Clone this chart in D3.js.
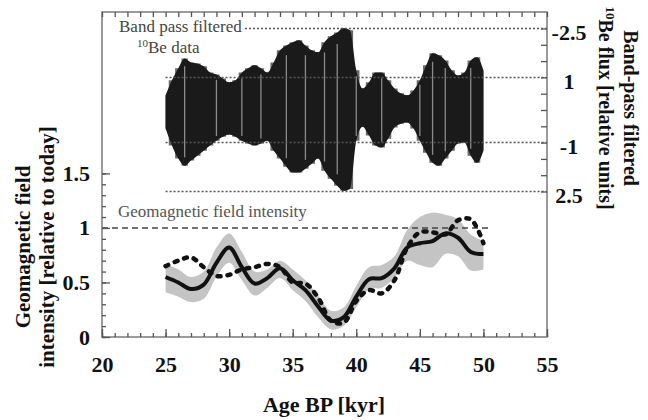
<!DOCTYPE html>
<html>
<head>
<meta charset="utf-8">
<script src="https://cdn.jsdelivr.net/npm/d3@7"></script>
<style>
  body { margin: 0; background: #fff; }
  svg { display: block; }
  .serif { font-family: "Liberation Serif", "Times New Roman", serif; }
</style>
</head>
<body>
<div id="chart"></div>
<script>
// --- données ---
// bas : intensité du champ géomagnétique (relative à aujourd'hui)
const ages = [25, 26, 27, 28, 29, 30, 31, 32, 33, 34, 35, 36, 37, 38, 39, 40, 41, 42, 43, 44, 45, 46, 47, 48, 49, 50];
const champ = [0.55, 0.50, 0.44, 0.48, 0.68, 0.82, 0.64, 0.49, 0.54, 0.63, 0.52, 0.43, 0.28, 0.15, 0.18, 0.37, 0.53, 0.54, 0.63, 0.82, 0.86, 0.88, 0.95, 0.91, 0.78, 0.76];
const champHaut = [0.67, 0.62, 0.55, 0.60, 0.82, 0.95, 0.78, 0.60, 0.62, 0.70, 0.62, 0.52, 0.38, 0.24, 0.27, 0.47, 0.64, 0.66, 0.74, 0.98, 1.10, 1.14, 1.12, 1.08, 0.94, 0.88];
const champBas = [0.41, 0.37, 0.32, 0.35, 0.55, 0.68, 0.52, 0.38, 0.45, 0.54, 0.43, 0.33, 0.18, 0.07, 0.10, 0.27, 0.44, 0.45, 0.54, 0.70, 0.66, 0.64, 0.76, 0.74, 0.61, 0.62];
const champTirets = [0.65, 0.70, 0.73, 0.64, 0.56, 0.57, 0.62, 0.64, 0.67, 0.64, 0.50, 0.49, 0.36, 0.15, 0.13, 0.33, 0.43, 0.40, 0.52, 0.82, 0.96, 0.96, 0.94, 1.07, 1.08, 0.86];

// haut : enveloppe du flux 10Be filtré (unités relatives, axe inversé)
const agesBe = [25, 25.5, 26, 26.5, 27, 27.5, 28, 28.5, 29, 29.5, 30, 30.5, 31, 31.5, 32, 32.5, 33, 33.5, 34, 34.5, 35, 35.5, 36, 36.5, 37, 37.5, 38, 38.5, 39, 39.5, 40, 40.5, 41, 41.5, 42, 42.5, 43, 43.5, 44, 44.5, 45, 45.5, 46, 46.5, 47, 47.5, 48, 48.5, 49, 49.5, 50];
const beMin = [-0.45, -0.91, -1.28, -1.58, -1.46, -1.43, -1.34, -1.15, -1.09, -0.97, -0.85, -0.91, -1.15, -1.28, -1.37, -1.28, -1.15, -1.46, -1.83, -1.98, -2.08, -2.14, -1.98, -1.83, -1.77, -2.08, -2.26, -2.38, -2.51, -2.45, -1.22, -0.66, -0.85, -1.15, -1.15, -0.91, -0.66, -0.51, -0.45, -0.60, -0.91, -1.37, -1.74, -1.68, -1.52, -1.22, -1.06, -1.15, -1.52, -1.62, -1.22];
const beMax = [0.57, 1.09, 1.49, 1.71, 1.55, 1.40, 1.25, 1.09, 0.94, 0.82, 0.75, 0.82, 0.94, 1.03, 1.09, 1.03, 0.94, 1.25, 1.49, 1.74, 1.92, 1.92, 1.80, 1.65, 1.49, 1.86, 2.11, 2.32, 2.48, 2.42, 0.94, 0.51, 0.78, 1.09, 1.15, 0.88, 0.54, 0.42, 0.38, 0.57, 0.94, 1.31, 1.62, 1.71, 1.49, 1.25, 1.03, 1.00, 1.40, 1.62, 1.25];
const beTraits = [26.5, 29, 31, 32.5, 34.5, 36, 37.5, 38.5, 40, 42, 45, 46, 47, 49];

// graduations
const xTicks = [20, 25, 30, 35, 40, 45, 50, 55];
const yTicks = [0, 0.5, 1, 1.5];
const yTickLabels = ["0", "0.5", "1", "1.5"];
const fluxTicks = [-2.5, -1, 1, 2.5];
const fluxTickLabels = ["-2.5", "1", "-1", "2.5"];

const largeur = 648, hauteur = 420;
const svg = d3.select("#chart").append("svg")
  .attr("width", largeur).attr("height", hauteur);

const x = d3.scaleLinear().domain([20, 55]).range([102, 547]);
const yChamp = d3.scaleLinear().domain([0, 2.98]).range([337, 12]);
const yFlux = d3.scaleLinear().domain([-2.5, 2.5]).range([28.5, 191.5]);

// --- signal 10Be : frange grise en escalier + coeur noir ---
const enveloppe = agesBe.map((a, i) => [a, beMin[i], beMax[i]]);
svg.append("path").datum(enveloppe)
  .attr("d", d3.area().curve(d3.curveStep).x(d => x(d[0])).y0(d => yFlux(d[1])).y1(d => yFlux(d[2])))
  .attr("fill", "#6a6a6a");
svg.append("path").datum(enveloppe)
  .attr("d", d3.area().curve(d3.curveMonotoneX).x(d => x(d[0])).y0(d => yFlux(d[1])).y1(d => yFlux(d[2])))
  .attr("fill", "#1a1a1a");

svg.selectAll(".trait").data(beTraits).enter().append("line")
  .attr("class", "trait")
  .attr("x1", d => x(d)).attr("x2", d => x(d))
  .attr("y1", d => yFlux(0.85 * beMin[agesBe.indexOf(d)]))
  .attr("y2", d => yFlux(0.85 * beMax[agesBe.indexOf(d)]))
  .attr("stroke", "#8a8a8a").attr("stroke-width", 1.3);

// lignes pointillées de référence
const pointilles = [[-2.5, 245], [-1, x(25)], [1, x(25)], [2.5, x(25)]];
svg.selectAll(".pointille").data(pointilles).enter().append("line")
  .attr("x1", d => d[1]).attr("x2", 547)
  .attr("y1", d => yFlux(d[0])).attr("y2", d => yFlux(d[0]))
  .attr("stroke", "#555").attr("stroke-width", 1.5).attr("stroke-dasharray", "2,2");

// --- champ géomagnétique ---
const serie = ages.map((a, i) => ({ a: a, v: champ[i], h: champHaut[i], b: champBas[i], t: champTirets[i] }));
const courbe = d3.curveCatmullRom;

svg.append("path").datum(serie)
  .attr("d", d3.area().curve(courbe).x(d => x(d.a)).y0(d => yChamp(d.b)).y1(d => yChamp(d.h)))
  .attr("fill", "#c4c4c4");

svg.append("line")
  .attr("x1", x(20)).attr("x2", x(50.5)).attr("y1", yChamp(1)).attr("y2", yChamp(1))
  .attr("stroke", "#444").attr("stroke-width", 1.5).attr("stroke-dasharray", "6,4");

svg.append("path").datum(serie)
  .attr("d", d3.line().curve(courbe).x(d => x(d.a)).y(d => yChamp(d.t)))
  .attr("fill", "none").attr("stroke", "#111").attr("stroke-width", 4.5)
  .attr("stroke-dasharray", "3,7").attr("stroke-linecap", "round");

svg.append("path").datum(serie)
  .attr("d", d3.line().curve(courbe).x(d => x(d.a)).y(d => yChamp(d.v)))
  .attr("fill", "none").attr("stroke", "#111").attr("stroke-width", 4);

// --- cadre et axes ---
svg.append("rect")
  .attr("x", 102).attr("y", 12).attr("width", 445).attr("height", 325)
  .attr("fill", "none").attr("stroke", "#7a7a7a").attr("stroke-width", 1.5);

function styliser(g) {
  g.select(".domain").remove();
  g.selectAll(".tick line").attr("stroke", "#555").attr("stroke-width", 1.3);
  g.selectAll("text").attr("class", "serif").attr("font-size", 22)
    .attr("font-weight", "bold").attr("fill", "#111");
}

svg.append("g").attr("transform", "translate(0,337)")
  .call(d3.axisBottom(x).tickValues(d3.range(20, 56, 1)).tickSize(-4).tickFormat(""))
  .call(styliser);
svg.append("g").attr("transform", "translate(0,337)")
  .call(d3.axisBottom(x).tickValues(xTicks).tickSize(-8).tickPadding(19).tickFormat(d3.format("d")))
  .call(styliser);
svg.append("g").attr("transform", "translate(0,12)")
  .call(d3.axisTop(x).tickValues(d3.range(20, 56, 1)).tickSize(-5).tickFormat(""))
  .call(styliser);

svg.append("g").attr("transform", "translate(102,0)")
  .call(d3.axisLeft(yChamp).tickValues(d3.range(0, 1.55, 0.1)).tickSize(-4).tickFormat(""))
  .call(styliser);
svg.append("g").attr("transform", "translate(102,0)")
  .call(d3.axisLeft(yChamp).tickValues(yTicks).tickSize(-8).tickPadding(12)
    .tickFormat((d, i) => yTickLabels[i]))
  .call(styliser);

svg.append("g").attr("transform", "translate(547,0)")
  .call(d3.axisRight(yFlux).tickValues(d3.range(-2.5, 2.55, 0.5)).tickSize(-6).tickFormat(""))
  .call(styliser);
svg.selectAll(".etiquetteFlux").data(fluxTicks).enter().append("text")
  .attr("class", "serif")
  .attr("x", 569).attr("y", d => yFlux(d) + 4).attr("dy", "0.35em")
  .attr("text-anchor", "middle").attr("font-size", 22).attr("font-weight", "bold").attr("fill", "#111")
  .text((d, i) => fluxTickLabels[i]);

// --- titres des axes ---
svg.append("text").attr("class", "serif")
  .attr("x", 324).attr("y", 412).attr("text-anchor", "middle")
  .attr("font-size", 22).attr("font-weight", "bold").attr("fill", "#111")
  .text("Age BP [kyr]");

const titreGauche = svg.append("text").attr("class", "serif")
  .attr("transform", "translate(0,247) rotate(-90)")
  .attr("text-anchor", "middle").attr("font-size", 21).attr("font-weight", "bold").attr("fill", "#111");
titreGauche.append("tspan").attr("x", 0).attr("y", 30).text("Geomagnetic field");
titreGauche.append("tspan").attr("x", 0).attr("y", 54).text("intensity [relative to today]");

const titreDroite = svg.append("text").attr("class", "serif")
  .attr("transform", "translate(0,108) rotate(90)")
  .attr("text-anchor", "middle").attr("font-size", 20).attr("font-weight", "bold").attr("fill", "#111");
titreDroite.append("tspan").attr("x", 0).attr("y", -624).text("Band-pass filtered");
const ligne2 = titreDroite.append("tspan").attr("x", 0).attr("y", -599);
ligne2.append("tspan").attr("font-size", 13).attr("dy", -7).text("10");
ligne2.append("tspan").attr("dy", 7).text("Be flux [relative units]");

// --- légendes internes ---
svg.append("text").attr("class", "serif")
  .attr("x", 119).attr("y", 32).attr("font-size", 17).attr("fill", "#444")
  .text("Band pass filtered");
const legBe = svg.append("text").attr("class", "serif")
  .attr("x", 137).attr("y", 53).attr("font-size", 17).attr("fill", "#444");
legBe.append("tspan").attr("font-size", 11).attr("dy", -6).text("10");
legBe.append("tspan").attr("dy", 6).text("Be data");

svg.append("text").attr("class", "serif")
  .attr("x", 118).attr("y", 217).attr("font-size", 17).attr("fill", "#555")
  .text("Geomagnetic field intensity");
</script>
</body>
</html>
